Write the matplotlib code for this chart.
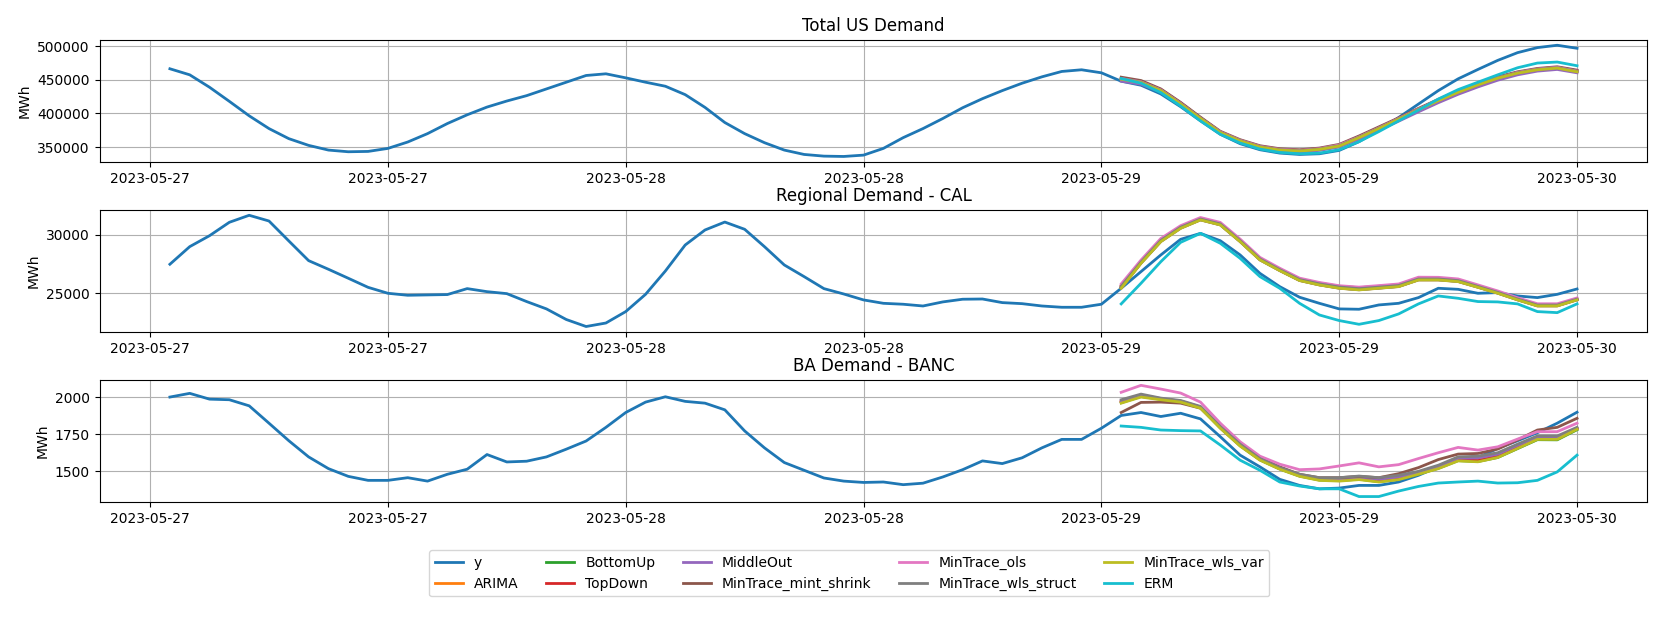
import matplotlib
matplotlib.use("Agg")
import matplotlib.pyplot as plt
import matplotlib.dates as mdates
import pandas as pd

# ---------------- data ----------------
hist_start = "2023-05-27 01:00"
n_hours = 72
fc_start = "2023-05-29 01:00"
n_fc = 24

titles = ["Total US Demand", "Regional Demand - CAL", "BA Demand - BANC"]
model_names = ["ARIMA", "BottomUp", "TopDown", "MiddleOut", "MinTrace_mint_shrink",
               "MinTrace_ols", "MinTrace_wls_struct", "MinTrace_wls_var", "ERM"]

# Total US
tot_y = [466500, 457500, 439000, 418000, 396500, 377500, 362500, 352500, 345500, 343000, 343500, 348000,
         357500, 370000, 385000, 398000, 409500, 418500, 426500, 436500, 446500, 456500, 459000, 453000,
         446500, 440500, 428000, 409000, 386500, 370000, 356500, 345500, 339000, 336500, 336000, 338000,
         348000, 364000, 377500, 392500, 408500, 422000, 434000, 445000, 454500, 462500, 465000, 460500,
         448000, 442000, 429000, 410000, 389000, 369000, 355000, 346000, 341000, 339000, 340000, 345000,
         358000, 375000, 394000, 414000, 434000, 451500, 465500, 479000, 490500, 498000, 501500, 497000]
tot_arima = [452000, 447000, 435000, 415000, 393000, 372000, 359500, 350500, 346000, 344500, 347000, 352500,
             365000, 378500, 392500, 406500, 420000, 432500, 443500, 453500, 461000, 466000, 468500, 463000]
tot_bottomup = [451500, 446500, 434500, 414500, 393000, 372000, 359000, 350500, 346000, 344000, 346500, 352000,
                364500, 378000, 392000, 406000, 419500, 432000, 443000, 453000, 460500, 465500, 468000, 462500]
tot_topdown = [452500, 447500, 435500, 415500, 393500, 372500, 360000, 351000, 346500, 345000, 347500, 352500,
               365000, 378500, 392500, 406500, 420000, 432500, 443500, 453500, 461000, 466000, 468500, 463500]
tot_middleout = [448000, 443500, 432000, 412500, 391000, 370000, 357500, 349000, 344000, 342500, 345000, 350000,
                 362000, 375000, 388500, 402500, 416000, 428500, 439500, 449500, 457500, 463000, 465500, 460500]
tot_mint = [454000, 449000, 436500, 416500, 394500, 373500, 361000, 352000, 347500, 346000, 348500, 354000,
            366500, 380000, 393500, 407500, 421000, 433500, 444500, 454500, 462000, 467000, 469500, 464500]
tot_ols = [452000, 447000, 435000, 415000, 393000, 372500, 360000, 351000, 346500, 345000, 347500, 353000,
           365000, 378500, 392500, 406500, 420000, 432500, 443500, 453000, 461000, 466000, 468500, 463000]
tot_wls_struct = [451500, 446500, 434500, 414500, 393000, 372000, 359500, 350500, 346000, 344500, 347000, 352000,
                  364500, 378000, 392000, 406000, 419500, 432000, 443000, 453000, 460500, 465500, 468000, 462500]
tot_wls_var = [451000, 446000, 434000, 414000, 392500, 371500, 359000, 350000, 345500, 344000, 346500, 351500,
               364000, 377500, 391500, 405500, 419000, 431500, 442500, 452500, 460000, 465000, 467500, 462000]
tot_erm = [452000, 445000, 431000, 411000, 389000, 369000, 356000, 347000, 342000, 340000, 341000, 346000,
           358000, 373000, 389000, 405000, 421500, 435500, 446500, 457500, 468000, 475000, 476500, 471000]

# Regional CAL
cal_y = [27490, 29000, 29940, 31090, 31690, 31200, 29490, 27800, 27060, 26290, 25510, 25000,
         24830, 24860, 24890, 25400, 25140, 24970, 24290, 23660, 22750, 22150, 22450, 23430,
         24910, 26910, 29140, 30430, 31110, 30490, 29000, 27430, 26430, 25400, 24940, 24430,
         24140, 24060, 23910, 24260, 24490, 24510, 24200, 24110, 23910, 23800, 23800, 24060,
         25430, 26860, 28290, 29630, 30140, 29510, 28290, 26710, 25570, 24660, 24140, 23660,
         23630, 24000, 24140, 24630, 25430, 25340, 25000, 25060, 24770, 24630, 24910, 25370]
cal_arima = [25470, 27600, 29460, 30600, 31310, 30880, 29450, 27880, 26960, 26110, 25730, 25450,
             25310, 25450, 25590, 26160, 26160, 26020, 25530, 25020, 24450, 23930, 23930, 24450]
cal_bottomup = [25480, 27610, 29470, 30610, 31320, 30890, 29460, 27890, 26970, 26120, 25740, 25460,
                25320, 25460, 25600, 26170, 26170, 26030, 25540, 25030, 24460, 23940, 23940, 24460]
cal_topdown = [25650, 27720, 29580, 30700, 31400, 30980, 29550, 27980, 27060, 26220, 25870, 25600,
               25480, 25600, 25730, 26290, 26270, 26120, 25620, 25100, 24530, 24010, 24000, 24520]
cal_middleout = [25460, 27590, 29450, 30590, 31300, 30870, 29440, 27870, 26950, 26100, 25720, 25440,
                 25300, 25440, 25580, 26150, 26150, 26010, 25520, 25010, 24440, 23920, 23920, 24440]
cal_mint = [25550, 27640, 29500, 30640, 31350, 30920, 29490, 27920, 27000, 26150, 25780, 25500,
            25360, 25500, 25640, 26200, 26200, 26060, 25570, 25060, 24490, 23970, 23960, 24480]
cal_ols = [25800, 27850, 29700, 30800, 31500, 31080, 29650, 28080, 27150, 26300, 25930, 25650,
           25530, 25660, 25800, 26380, 26370, 26230, 25720, 25200, 24620, 24100, 24100, 24600]
cal_wls_struct = [25600, 27680, 29540, 30670, 31370, 30950, 29520, 27950, 27030, 26180, 25810, 25540,
                  25400, 25530, 25670, 26230, 26230, 26090, 25590, 25080, 24510, 23990, 23990, 24500]
cal_wls_var = [25430, 27570, 29430, 30570, 31290, 30860, 29430, 27860, 26940, 26090, 25710, 25430,
               25290, 25430, 25570, 26140, 26140, 26000, 25510, 25000, 24430, 23910, 23910, 24430]
cal_erm = [24090, 25860, 27710, 29370, 30140, 29290, 28000, 26430, 25430, 24140, 23140, 22660,
           22340, 22660, 23230, 24090, 24770, 24570, 24290, 24260, 24090, 23430, 23340, 24090]

# BA BANC
banc_y = [2000, 2025, 1986, 1982, 1941, 1824, 1706, 1597, 1518, 1466, 1439, 1439,
          1457, 1434, 1480, 1514, 1613, 1563, 1568, 1597, 1649, 1704, 1796, 1896,
          1966, 2002, 1971, 1959, 1914, 1772, 1658, 1559, 1507, 1455, 1434, 1425,
          1428, 1410, 1420, 1462, 1511, 1570, 1552, 1591, 1658, 1715, 1715, 1790,
          1876, 1896, 1869, 1891, 1853, 1733, 1609, 1530, 1446, 1405, 1382, 1387,
          1405, 1405, 1428, 1473, 1530, 1586, 1593, 1654, 1706, 1760, 1824, 1898]
banc_arima = [1970, 2010, 1988, 1972, 1932, 1796, 1677, 1580, 1519, 1472, 1447, 1446,
              1455, 1442, 1457, 1490, 1528, 1582, 1582, 1608, 1668, 1726, 1726, 1790]
banc_bottomup = [1962, 2004, 1985, 1968, 1928, 1792, 1672, 1577, 1516, 1468, 1441, 1437,
                 1447, 1430, 1446, 1482, 1520, 1572, 1566, 1593, 1653, 1713, 1712, 1780]
banc_topdown = [1965, 2008, 1988, 1970, 1930, 1795, 1675, 1580, 1518, 1470, 1446, 1444,
                1452, 1438, 1452, 1488, 1526, 1578, 1572, 1600, 1660, 1720, 1720, 1788]
banc_middleout = [1975, 2013, 1990, 1973, 1933, 1798, 1680, 1583, 1521, 1475, 1450, 1449,
                  1458, 1446, 1462, 1494, 1532, 1588, 1590, 1615, 1675, 1730, 1730, 1792]
banc_mint = [1896, 1964, 1966, 1959, 1925, 1801, 1683, 1593, 1530, 1480, 1457, 1457,
             1466, 1457, 1484, 1525, 1579, 1616, 1620, 1650, 1711, 1778, 1796, 1857]
banc_ols = [2032, 2079, 2054, 2027, 1966, 1824, 1699, 1602, 1548, 1511, 1516, 1536,
            1557, 1530, 1545, 1586, 1625, 1661, 1643, 1665, 1717, 1767, 1767, 1824]
banc_wls_struct = [1982, 2020, 1993, 1977, 1937, 1801, 1683, 1586, 1525, 1480, 1457, 1457,
                   1468, 1457, 1473, 1500, 1541, 1597, 1602, 1625, 1683, 1738, 1738, 1796]
banc_wls_var = [1959, 2000, 1982, 1966, 1925, 1790, 1670, 1575, 1514, 1466, 1439, 1434,
                1444, 1428, 1444, 1480, 1518, 1570, 1564, 1593, 1654, 1715, 1715, 1783]
banc_erm = [1805, 1796, 1778, 1774, 1772, 1677, 1575, 1507, 1428, 1401, 1382, 1382,
            1330, 1330, 1367, 1398, 1421, 1428, 1434, 1421, 1423, 1439, 1496, 1609]

panels = [
    (tot_y, [tot_arima, tot_bottomup, tot_topdown, tot_middleout, tot_mint, tot_ols,
             tot_wls_struct, tot_wls_var, tot_erm]),
    (cal_y, [cal_arima, cal_bottomup, cal_topdown, cal_middleout, cal_mint, cal_ols,
             cal_wls_struct, cal_wls_var, cal_erm]),
    (banc_y, [banc_arima, banc_bottomup, banc_topdown, banc_middleout, banc_mint, banc_ols,
              banc_wls_struct, banc_wls_var, banc_erm]),
]

# ---------------- plot ----------------
t_hist = pd.date_range(hist_start, periods=n_hours, freq="h")
t_fc = pd.date_range(fc_start, periods=n_fc, freq="h")
colors = ["C1", "C2", "C3", "C4", "C5", "C6", "C7", "C8", "C9"]
lw = 2.0

fig, axes = plt.subplots(3, 1, figsize=(16.59, 6.30), dpi=100)
fig.subplots_adjust(left=0.06, right=0.993, top=0.937, bottom=0.203, hspace=0.39)

for ax, title, (yvals, models) in zip(axes, titles, panels):
    ax.plot(t_hist, yvals, color="C0", label="y", linewidth=lw)
    for name, vals, c in zip(model_names, models, colors):
        ax.plot(t_fc, vals, color=c, label=name, linewidth=lw)
    ax.set_title(title)
    ax.set_ylabel("MWh")
    ax.grid(True)
    ax.xaxis.set_major_locator(mdates.HourLocator(byhour=[0, 12]))
    ax.xaxis.set_major_formatter(mdates.DateFormatter("%Y-%m-%d"))

handles, labels = axes[0].get_legend_handles_labels()
fig.legend(handles, labels, loc="center", ncol=5, bbox_to_anchor=(0.512, 0.090))

fig.savefig("out.png", dpi=100)
